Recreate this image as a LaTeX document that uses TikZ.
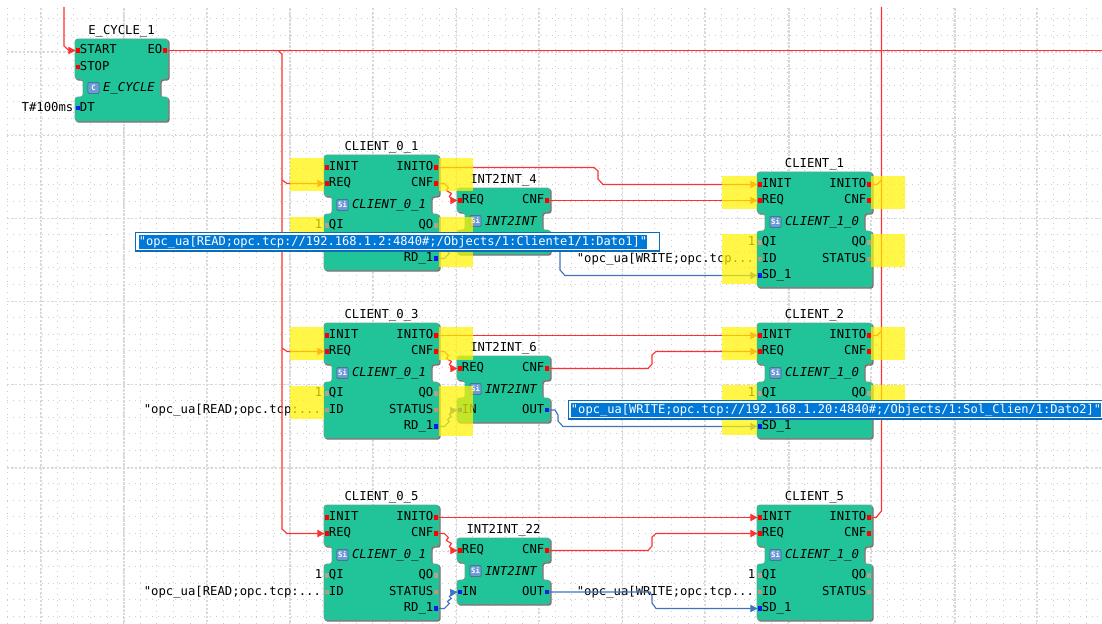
\documentclass[tikz,border=0pt]{standalone}
\usepackage{fontspec}
\setmonofont{DejaVu Sans Mono}
\renewcommand{\familydefault}{\ttdefault}
\usetikzlibrary{arrows.meta}
\usetikzlibrary{positioning}

\definecolor{blockgreen}{HTML}{20C498}
\definecolor{blockedge}{HTML}{5FA890}
\definecolor{blockshade}{HTML}{777777}
\definecolor{wirered}{HTML}{FF3030}
\definecolor{wireblue}{HTML}{3F74BC}
\definecolor{pinblue}{HTML}{0A1EE6}
\definecolor{pinidle}{HTML}{A8A890}
\definecolor{pinbrown}{HTML}{B89A78}
\definecolor{iconblue}{HTML}{6E9AD8}
\definecolor{boxblue}{HTML}{0A6CBF}
\definecolor{selblue}{HTML}{0078D7}

\tikzset{
	blockbody/.style={draw=blockedge, fill=blockgreen, line width=.5pt, rounded corners=2pt,
		preaction={draw=blockshade, fill=blockshade, line width=.8pt, transform canvas={shift={(.9pt,-.9pt)}}}},
	blocktitle/.style={inner sep=0pt, font=\fontsize{9.2}{9.2}\selectfont},
	typetext/.style={inner sep=0pt, font=\fontsize{9.2}{9.2}\selectfont\itshape},
	iconbox/.style={draw=iconblue!60!black, fill=iconblue, rounded corners=1pt, inner sep=0pt, minimum size=8.5pt, text=white, line width=.3pt, font=\fontsize{5.5}{5.5}\selectfont\bfseries},
	evpin/.style={fill=red, inner sep=0pt, minimum size=3.2pt},
	datapin/.style={fill=pinblue, inner sep=0pt, minimum size=3.2pt},
	idlepin/.style={fill=pinidle, inner sep=0pt, minimum size=3.2pt},
	statpin/.style={fill=pinbrown, inner sep=0pt, minimum size=3.2pt},
	pinlabel/.style={inner sep=0pt, text height=7pt, text depth=2pt, font=\fontsize{9.2}{9.2}\selectfont},
	evwire/.style={draw=wirered, line width=.85pt},
	evarrow/.style={evwire, -{Triangle[length=5.5pt,width=5.5pt]}},
	datawire/.style={draw=wireblue, line width=.85pt},
	dataarrow/.style={datawire, -{Triangle[length=5.5pt,width=5.5pt]}},
	highlight/.style={fill=yellow, fill opacity=.72},
	minorgrid/.style={draw=black!20, line width=.75pt, dash pattern=on .75pt off 3.6pt},
	mediumgrid/.style={draw=black!15, line width=.9pt, dash pattern=on 1.5pt off 1.5pt},
	majorgrid/.style={draw=black!15, line width=1.3pt, dash pattern=on 2pt off .8pt},
	editbox/.style={draw=boxblue, fill=white, line width=1pt, inner sep=0pt, minimum height=14pt},
	edittext/.style={fill=selblue, text=white, inner sep=0pt, text height=8pt, text depth=2.5pt, font=\fontsize{9.05}{9.05}\selectfont},
}

% pins: name, style, x, y, text
\newcommand{\leftpin}[5]{
	\node [#2] (#1) at (#3,#4) {};
	\node [pinlabel, right=-.6pt of #1] (#1t) {#5};
}
\newcommand{\rightpin}[5]{
	\node [#2] (#1) at (#3,#4) {};
	\node [pinlabel, left=0pt of #1] (#1t) {#5};
}

% body of a function block: name, title, type, icon, width, upper, neck, lower
\newcommand{\blockbody}[8]{
	\draw [blockbody] (0,0) -- ++(#5,0) -- ++(0,#6) -- ++(-8,0) -- ++(0,#7) -- ++(8,0) -- ++(0,#8)
		-- ++(-#5,0) -- ++(0,-#8) -- ++(8,0) -- ++(0,-#7) -- ++(-8,0) -- cycle;
	\node [blocktitle] (#1title) at (#5/2,-8) {#2};
	\node [iconbox] (#1icon) at (18.5,#6+#7/2) {#4};
	\node [typetext, right=2.6pt of #1icon] (#1type) {#3};
}

% client with its common pins: name, x, y, title, type
\newcommand{\clientcommon}[5]{
	\blockbody{#1}{#4}{#5}{Si}{115}{41}{18}{56}
	\leftpin{#1INIT}{evpin}{3}{12.5}{INIT}
	\leftpin{#1REQ}{evpin}{3}{28.5}{REQ}
	\leftpin{#1QI}{idlepin}{3}{70.5}{QI}
	\leftpin{#1ID}{statpin}{3}{87}{ID}
	\rightpin{#1INITO}{evpin}{112}{12.5}{INITO}
	\rightpin{#1CNF}{evpin}{112}{28.5}{CNF}
	\rightpin{#1QO}{idlepin}{112}{70.5}{QO}
	\rightpin{#1STATUS}{statpin}{112}{87}{STATUS}
}
\newcommand{\readclient}[5]{
	\begin{scope}[shift={(#2,#3)}]
		\clientcommon{#1}{#2}{#3}{#4}{#5}
		\rightpin{#1RD}{datapin}{112}{103.5}{RD\_1}
	\end{scope}
}
\newcommand{\writeclient}[5]{
	\begin{scope}[shift={(#2,#3)}]
		\clientcommon{#1}{#2}{#3}{#4}{#5}
		\leftpin{#1SD}{datapin}{3}{103.5}{SD\_1}
	\end{scope}
}
\newcommand{\intblock}[4]{
	\begin{scope}[shift={(#2,#3)}]
		\blockbody{#1}{#4}{INT2INT}{Si}{93}{24}{18}{24}
		\leftpin{#1REQ}{evpin}{3}{12.5}{REQ}
		\leftpin{#1IN}{datapin}{3}{54}{IN}
		\rightpin{#1CNF}{evpin}{90}{12.5}{CNF}
		\rightpin{#1OUT}{datapin}{90}{54}{OUT}
	\end{scope}
}

\begin{document}
\begin{tikzpicture}[x=.75pt,y=-.75pt]
	\useasboundingbox (0,0) rectangle (1102,624);
	\clip (0,0) rectangle (1102,624);

	% grid
	\foreach \i in {0,...,66} \draw [minorgrid] ({7.5+16.6*\i},8) -- ({7.5+16.6*\i},624);
	\foreach \j in {0,...,36} \draw [minorgrid] (7,{18.8+16.6*\j}) -- (1102,{18.8+16.6*\j});
	\foreach \i in {0,...,6} \draw [mediumgrid] ({41+166*\i},8) -- ({41+166*\i},624);
	\foreach \j in {0,...,3} \draw [mediumgrid] (7,{52+166.4*\j}) -- (1102,{52+166.4*\j});
	\foreach \i in {0,...,5} \draw [majorgrid] ({124+166.2*\i},8) -- ({124+166.2*\i},624);
	\foreach \j in {0,...,2} \draw [mediumgrid] (7,{135.5+166.2*\j}) -- (1102,{135.5+166.2*\j});

	% blocks
	\begin{scope}[shift={(75,39)}]
		\blockbody{EC}{E\_CYCLE\_1}{E\_CYCLE}{C}{93}{40}{18}{24}
		\leftpin{ECSTART}{evpin}{3}{11.5}{START}
		\leftpin{ECSTOP}{evpin}{3}{28}{STOP}
		\leftpin{ECDT}{datapin}{3}{69}{DT}
		\rightpin{ECEO}{evpin}{90}{11.5}{EO}
	\end{scope}
	\readclient{CA}{324}{155}{CLIENT\_0\_1}{CLIENT\_0\_1}
	\readclient{CB}{324}{323}{CLIENT\_0\_3}{CLIENT\_0\_1}
	\readclient{CC}{324}{505}{CLIENT\_0\_5}{CLIENT\_0\_1}
	\writeclient{SA}{757}{172}{CLIENT\_1}{CLIENT\_1\_0}
	\writeclient{SB}{757}{323}{CLIENT\_2}{CLIENT\_1\_0}
	\writeclient{SC}{757}{505}{CLIENT\_5}{CLIENT\_1\_0}
	\intblock{IA}{457}{188}{INT2INT\_4}
	\intblock{IB}{457}{356}{INT2INT\_6}
	\intblock{IC}{457}{538}{INT2INT\_22}

	% values at the inputs
	\node [pinlabel, left=1.5pt of ECDT] (ECDTv) {T\#100ms};
	\node [pinlabel, left=1.5pt of CAQI] (CAQIv) {1};
	\node [pinlabel, left=1.5pt of CBQI] (CBQIv) {1};
	\node [pinlabel, left=1.5pt of CCQI] (CCQIv) {1};
	\node [pinlabel, left=1.5pt of SAQI] (SAQIv) {1};
	\node [pinlabel, left=1.5pt of SBQI] (SBQIv) {1};
	\node [pinlabel, left=1.5pt of SCQI] (SCQIv) {1};
	\node [pinlabel, left=2.5pt of CBID] (CBIDv) {"opc\_ua[READ;opc.tcp:...};
	\node [pinlabel, left=2.5pt of CCID] (CCIDv) {"opc\_ua[READ;opc.tcp:...};
	\node [pinlabel, left=2.5pt of SAID] (SAIDv) {"opc\_ua[WRITE;opc.tcp...};
	\node [pinlabel, left=2.5pt of SCID] (SCIDv) {"opc\_ua[WRITE;opc.tcp...};

	% free ends
	\coordinate (ECIN) at (64,7);
	\coordinate (ECOUT) at (1102,50.5);
	\coordinate (RTOP) at (881.5,7);
	\coordinate (TAPA) at (282,180);
	\coordinate (TAPB) at (282,348);

	% event wires
	\draw [evarrow] (ECIN) -- (64,46) -- (69,50.5) -- (ECSTART.west);
	\draw [evwire] (ECEO.east) -- (ECOUT);
	\draw [evarrow] (278,50.5) -- (282,54) -- (282,529) -- (287,533.5) -- (CCREQ.west);
	\draw [evarrow] (TAPA) -- (287,183.5) -- (CAREQ.west);
	\draw [evarrow] (TAPB) -- (287,351.5) -- (CBREQ.west);
	\draw [evarrow] (CAINITO.east) -- (594,167.5) -- (598,171) -- (598,179) -- (603,184.5) -- (SAINIT.west);
	\draw [evarrow] (CACNF.east) -- ++(6,0) -- ++(4,4) -- ++(-2,3) -- ++(5,3) -- ++(-2,3) -- ++(3,4) -- (IAREQ.west);
	\draw [evarrow] (IACNF.east) -- (SAREQ.west);
	\draw [evarrow] (CBINITO.east) -- (SBINIT.west);
	\draw [evarrow] (CBCNF.east) -- ++(6,0) -- ++(4,4) -- ++(-2,3) -- ++(5,3) -- ++(-2,3) -- ++(3,4) -- (IBREQ.west);
	\draw [evarrow] (IBCNF.east) -- (648,368.5) -- (652,364) -- (652,355) -- (656,351.5) -- (SBREQ.west);
	\draw [evarrow] (CCINITO.east) -- (SCINIT.west);
	\draw [evarrow] (CCCNF.east) -- ++(6,0) -- ++(4,4) -- ++(-2,3) -- ++(5,3) -- ++(-2,3) -- ++(3,4) -- (ICREQ.west);
	\draw [evarrow] (ICCNF.east) -- (648,550.5) -- (652,546) -- (652,537) -- (656,533.5) -- (SCREQ.west);
	\draw [evwire] (RTOP) -- (881.5,511) -- (876,517.5) -- (SCINITO.east);
	\draw [evwire] (SAINITO.east) -- (877,184.5) -- (881.5,180);
	\draw [evwire] (SBINITO.east) -- (877,335.5) -- (881.5,331);

	% data wires
	\draw [dataarrow] (CARD.east) -- ++(6,0) -- ++(5,-5) -- ++(-2,-2) -- ++(4,-3) -- ++(-2,-2) -- ++(3,-4) -- (IAIN.west);
	\draw [dataarrow] (IAOUT.east) -- (556,243) -- (560,248) -- (560,270) -- (565,275.5) -- (SASD.west);
	\draw [dataarrow] (CBRD.east) -- ++(6,0) -- ++(5,-5) -- ++(-2,-2) -- ++(4,-3) -- ++(-2,-2) -- ++(3,-4) -- (IBIN.west);
	\draw [dataarrow] (IBOUT.east) -- (555,410) -- (558,415) -- (558,421) -- (563,426.5) -- (SBSD.west);
	\draw [dataarrow] (CCRD.east) -- ++(6,0) -- ++(5,-5) -- ++(-2,-2) -- ++(4,-3) -- ++(-2,-2) -- ++(3,-4) -- (ICIN.west);
	\draw [dataarrow] (ICOUT.east) -- (650,592) -- (652,596) -- (652,603) -- (656,608.5) -- (SCSD.west);

	% highlighted pin groups
	\foreach \y in {158,327} {
		\fill [highlight] (290,\y) rectangle ++(34,33);
		\fill [highlight] (439,\y) rectangle ++(34,33);
		\fill [highlight] (290,\y) ++(0,59) rectangle ++(34,33);
		\fill [highlight] (439,\y) ++(0,59) rectangle ++(34,50);
	}
	\foreach \y in {176,327} {
		\fill [highlight] (722,\y) rectangle ++(35,33);
		\fill [highlight] (871,\y) rectangle ++(34,33);
		\fill [highlight] (722,\y) ++(0,58) rectangle ++(35,50);
		\fill [highlight] (871,\y) ++(0,58) rectangle ++(34,33);
	}

	% open text editors
	\node [editbox, minimum width=393pt, anchor=west] (EDITA) at (134.5,241.5) {};
	\node [edittext, anchor=west, right=3pt of EDITA.west] (EDITAt) {"opc\_ua[READ;opc.tcp://192.168.1.2:4840\#;/Objects/1:Cliente1/1:Dato1]"};
	\node [editbox, minimum width=410pt, anchor=west] (EDITB) at (567.5,409.5) {};
	\node [edittext, anchor=west, right=2.4pt of EDITB.west] (EDITBt) {"opc\_ua[WRITE;opc.tcp://192.168.1.20:4840\#;/Objects/1:Sol\_Clien/1:Dato2]"};
\end{tikzpicture}
\end{document}
